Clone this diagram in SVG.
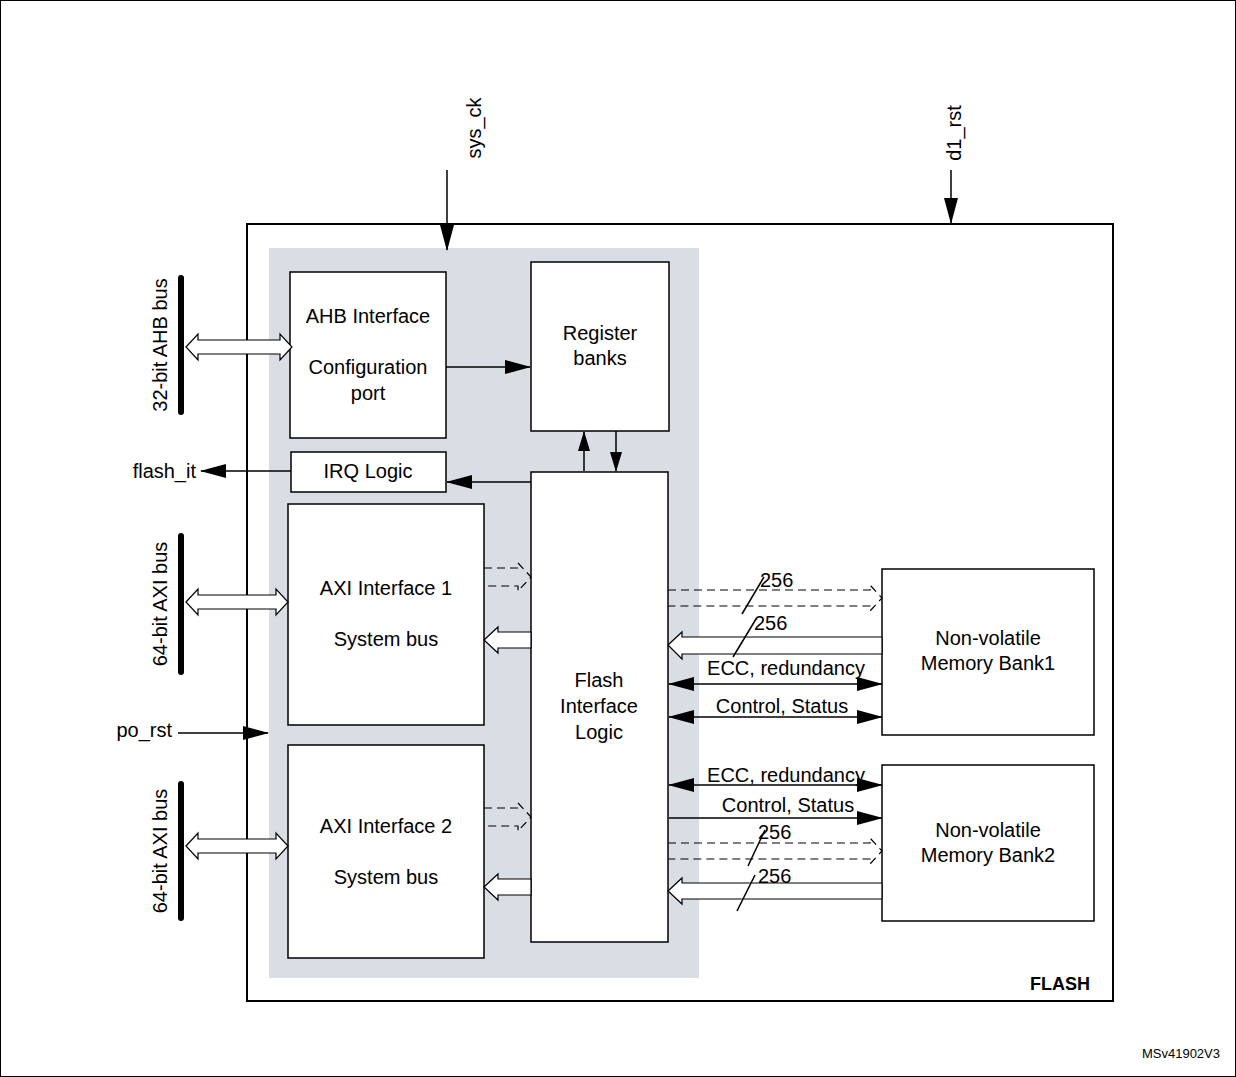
<svg xmlns="http://www.w3.org/2000/svg" width="1236" height="1077" viewBox="0 0 1236 1077">
<defs>
<marker id="ah" markerWidth="12" markerHeight="20" refX="11" refY="6" orient="auto-start-reverse" markerUnits="userSpaceOnUse"><path d="M0,0 L20,6 L0,12 Z" fill="#000"/></marker>
<marker id="ab" markerWidth="26" markerHeight="14" refX="25" refY="7" orient="auto-start-reverse" markerUnits="userSpaceOnUse"><path d="M0,0 L26,7 L0,14 Z" fill="#000"/></marker>
<marker id="am" markerWidth="20" markerHeight="14" refX="19" refY="6" orient="auto-start-reverse" markerUnits="userSpaceOnUse"><path d="M0,0 L20,6 L0,12 Z" fill="#000"/></marker>
</defs>
<style>
text{font-family:"Liberation Sans",Arial,sans-serif;font-size:20px;fill:#000}
.b{fill:#fff;stroke:#000;stroke-width:1.5}
.l{stroke:#000;stroke-width:1.5;fill:none}
.h{fill:#fff;stroke:#000;stroke-width:1.2}
.d{fill:none;stroke:#000;stroke-width:1.2;stroke-dasharray:8,5}
.bar{stroke:#000;stroke-width:6;stroke-linecap:round}
</style>
<rect x="0.5" y="0.5" width="1235" height="1076" fill="#fff" stroke="#000"/>
<rect x="247" y="224" width="866" height="777" fill="#fff" stroke="#000" stroke-width="2"/>
<rect x="269" y="248" width="430" height="730" fill="#d9dde4"/>
<text x="1090" y="990" text-anchor="end" font-weight="bold" style="font-size:18px">FLASH</text>
<text x="1220" y="1058" text-anchor="end" style="font-size:13px">MSv41902V3</text>

<g id="ahb"><rect class="b" x="290" y="272" width="156" height="166"/><text x="368" y="323" text-anchor="middle">AHB Interface</text><text x="368" y="374" text-anchor="middle">Configuration</text><text x="368" y="400" text-anchor="middle">port</text></g>
<g id="reg"><rect class="b" x="531" y="262" width="138" height="169"/><text x="600" y="340" text-anchor="middle">Register</text><text x="600" y="365" text-anchor="middle">banks</text></g>
<g id="irq"><rect class="b" x="291" y="452" width="155" height="40"/><text x="368" y="478" text-anchor="middle">IRQ Logic</text></g>
<g id="axi1"><rect class="b" x="288" y="504" width="196" height="221"/><text x="386" y="595" text-anchor="middle">AXI Interface 1</text><text x="386" y="646" text-anchor="middle">System bus</text></g>
<g id="axi2"><rect class="b" x="288" y="745" width="196" height="213"/><text x="386" y="833" text-anchor="middle">AXI Interface 2</text><text x="386" y="884" text-anchor="middle">System bus</text></g>
<g id="fil"><rect class="b" x="531" y="472" width="137" height="470"/><text x="599" y="687" text-anchor="middle">Flash</text><text x="599" y="713" text-anchor="middle">Interface</text><text x="599" y="739" text-anchor="middle">Logic</text></g>
<g id="bank1"><rect class="b" x="882" y="569" width="212" height="166"/><text x="988" y="645" text-anchor="middle">Non-volatile</text><text x="988" y="670" text-anchor="middle">Memory Bank1</text></g>
<g id="bank2"><rect class="b" x="882" y="765" width="212" height="156"/><text x="988" y="837" text-anchor="middle">Non-volatile</text><text x="988" y="862" text-anchor="middle">Memory Bank2</text></g>

<g id="buses">
<line class="bar" x1="181" y1="278" x2="181" y2="412"/>
<line class="bar" x1="181" y1="536" x2="181" y2="672"/>
<line class="bar" x1="181" y1="784" x2="181" y2="918"/>
<text transform="translate(167,345) rotate(-90)" text-anchor="middle">32-bit AHB bus</text>
<text transform="translate(167,604) rotate(-90)" text-anchor="middle">64-bit AXI bus</text>
<text transform="translate(167,851) rotate(-90)" text-anchor="middle">64-bit AXI bus</text>
<text transform="translate(481,128) rotate(-90)" text-anchor="middle">sys_ck</text>
<text transform="translate(961,133) rotate(-90)" text-anchor="middle">d1_rst</text>
<text x="196" y="478" text-anchor="end">flash_it</text>
<text x="172" y="737" text-anchor="end">po_rst</text>
</g>

<g id="connectors">
<polygon class="h" points="186,347 198,334 198,340 280,340 280,334 292,347 280,360 280,354 198,354 198,360"/>
<polygon class="h" points="186,602 198,589 198,595 276,595 276,589 288,602 276,615 276,609 198,609 198,615"/>
<polygon class="h" points="186,846 198,833 198,839 276,839 276,833 288,846 276,859 276,853 198,853 198,859"/>
<line class="l" x1="447" y1="170" x2="447" y2="250" marker-end="url(#ab)"/>
<line class="l" x1="951" y1="170" x2="951" y2="223" marker-end="url(#ab)"/>
<line class="l" x1="446" y1="367" x2="530" y2="367" marker-end="url(#ab)"/>
<line class="l" x1="584" y1="471" x2="584" y2="432" marker-end="url(#am)"/>
<line class="l" x1="616" y1="431" x2="616" y2="471" marker-end="url(#am)"/>
<line class="l" x1="531" y1="482" x2="447" y2="482" marker-end="url(#ab)"/>
<line class="l" x1="291" y1="471" x2="201" y2="471" marker-end="url(#ab)"/>
<line class="l" x1="178" y1="733" x2="268" y2="733" marker-end="url(#ab)"/>
<path class="d" d="M484,568 L518,568 L518,563 L531,577 L518,591 L518,586 L484,586"/>
<polygon class="h" points="484,640 498,627 498,632 531,632 531,648 498,648 498,653"/>
<path class="d" d="M484,808 L518,808 L518,803 L531,817 L518,831 L518,826 L484,826"/>
<polygon class="h" points="484,887 498,874 498,879 531,879 531,895 498,895 498,900"/>
<path class="d" d="M668,590 L870,590 L870,585 L882,598 L870,611 L870,606 L668,606"/>
<polygon class="h" points="668,645 682,632 682,637 882,637 882,654 682,654 682,659"/>
<line class="l" x1="742" y1="614" x2="764" y2="577"/>
<line class="l" x1="733" y1="657" x2="756" y2="619"/>
<text x="760" y="587">256</text>
<text x="754" y="630">256</text>
<line class="l" x1="669" y1="684" x2="882" y2="684" marker-start="url(#ab)" marker-end="url(#ab)"/>
<text x="786" y="675" text-anchor="middle">ECC, redundancy</text>
<line class="l" x1="669" y1="717" x2="882" y2="717" marker-start="url(#ab)" marker-end="url(#ab)"/>
<text x="782" y="713" text-anchor="middle">Control, Status</text>
<line class="l" x1="669" y1="785" x2="882" y2="785" marker-start="url(#ab)" marker-end="url(#ab)"/>
<text x="786" y="782" text-anchor="middle">ECC, redundancy</text>
<line class="l" x1="669" y1="818" x2="882" y2="818" marker-end="url(#ab)"/>
<text x="788" y="812" text-anchor="middle">Control, Status</text>
<path class="d" d="M668,843 L870,843 L870,838 L882,851 L870,864 L870,859 L668,859"/>
<polygon class="h" points="668,891 682,878 682,883 882,883 882,899 682,899 682,904"/>
<line class="l" x1="748" y1="866" x2="765" y2="830"/>
<line class="l" x1="737" y1="911" x2="755" y2="875"/>
<text x="758" y="839">256</text>
<text x="758" y="883">256</text>
</g>
</svg>
